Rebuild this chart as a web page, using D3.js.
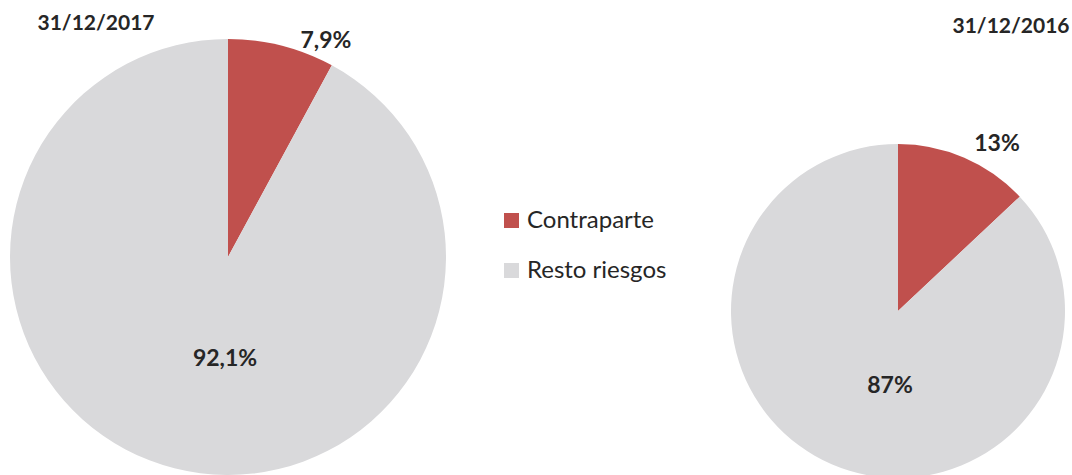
<!DOCTYPE html>
<html>
<head>
<meta charset="utf-8">
<script src="https://cdn.jsdelivr.net/npm/d3@7"></script>
<style>
  body { margin: 0; background: #fff; }
  svg { display: block; font-family: Lato, "Open Sans", sans-serif; }
</style>
</head>
<body>
<script>
var categories = ["Contraparte", "Resto riesgos"];
var colors = ["#C0504D", "#D9D9DB"];

var years = ["31/12/2017", "31/12/2016"];
var values2017 = [7.9, 92.1];
var values2016 = [13, 87];
var labels2017 = ["7,9%", "92,1%"];
var labels2016 = ["13%", "87%"];

var w = 1072;
var h = 475;

var svg = d3.select("body")
            .append("svg")
            .attr("width", w)
            .attr("height", h);

var pie = d3.pie().sort(null).value(function(d){ return d; });

// each chart: center, radius, title spot, label spots
var charts = [
  { title: years[0], values: values2017, labels: labels2017,
    cx: 228, cy: 257, r: 218, tx: 96, ty: 30,
    lx: [326, 225], ly: [48, 366] },
  { title: years[1], values: values2016, labels: labels2016,
    cx: 898, cy: 311, r: 167, tx: 1011, ty: 33,
    lx: [997, 890], ly: [151, 393] }
];

charts.forEach(function(c){
  var g = svg.append("g")
             .attr("transform", "translate(" + c.cx + "," + c.cy + ")");
  var arc = d3.arc().innerRadius(0).outerRadius(c.r);

  g.selectAll("path")
   .data(pie(c.values))
   .enter()
   .append("path")
   .attr("d", arc)
   .attr("fill", function(d, i){ return colors[i]; });

  svg.append("text")
     .attr("x", c.tx)
     .attr("y", c.ty)
     .attr("text-anchor", "middle")
     .attr("font-size", 21)
     .attr("font-weight", "bold")
     .attr("fill", "#262626")
     .text(c.title);

  svg.selectAll(null)
     .data(c.labels)
     .enter()
     .append("text")
     .attr("x", function(d, i){ return c.lx[i]; })
     .attr("y", function(d, i){ return c.ly[i]; })
     .attr("text-anchor", "middle")
     .attr("font-size", 23)
     .attr("font-weight", "bold")
     .attr("fill", "#262626")
     .text(function(d){ return d; });
});

// legend
var legend = svg.selectAll(".legend")
                .data(categories)
                .enter()
                .append("g")
                .attr("class", "legend")
                .attr("transform", function(d, i){
                  return "translate(504," + (213 + i * 50) + ")";
                });

legend.append("rect")
      .attr("width", 15)
      .attr("height", 15)
      .attr("fill", function(d, i){ return colors[i]; });

legend.append("text")
      .attr("x", 23)
      .attr("y", 15)
      .attr("font-size", 24)
      .attr("fill", "#262626")
      .text(function(d){ return d; });
</script>
</body>
</html>
